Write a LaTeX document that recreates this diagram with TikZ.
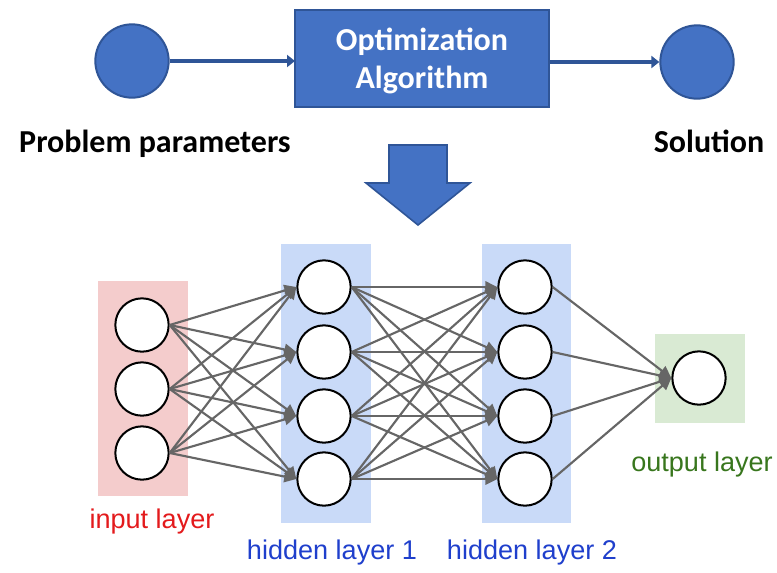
\documentclass[tikz,border=0pt]{standalone}
\usepackage{fontspec}
\setmainfont{Carlito}
\newfontfamily\arialish{Liberation Sans}
\usetikzlibrary{arrows.meta}
\definecolor{algofill}{HTML}{4472C4}
\definecolor{algoline}{HTML}{2F5597}
\definecolor{inpink}{HTML}{F4CCCC}
\definecolor{hidblue}{HTML}{C9DAF8}
\definecolor{outgreen}{HTML}{D9EAD3}
\definecolor{edgegray}{HTML}{666666}
\definecolor{lblred}{HTML}{E31A1C}
\definecolor{lblblue}{HTML}{1F3FCC}
\definecolor{lblgreen}{HTML}{38761D}
\tikzset{
  bigdot/.style={circle, fill=algofill, draw=algoline, line width=1.5pt, minimum size=55pt, inner sep=0pt},
  algobox/.style={rectangle, fill=algofill, draw=algoline, line width=1.5pt, inner sep=0pt},
  flowarrow/.style={draw=algoline, line width=3.2pt, -{Triangle[length=6pt,width=9pt]}},
  neuron/.style={circle, draw=black, fill=white, line width=1.5pt, minimum size=40pt, inner sep=0pt},
  synapse/.style={draw=edgegray, line width=1.6pt, -{Triangle[length=9pt,width=8.5pt]}},
  bigtext/.style={font=\fontsize{24pt}{28pt}\selectfont\bfseries, anchor=base},
  layerlabel/.style={font=\arialish\fontsize{20.3pt}{24pt}\selectfont, anchor=base}
}
\begin{document}
\begin{tikzpicture}[x=0.75pt, y=-0.75pt]
\useasboundingbox (0,0) rectangle (777,572);

% top: problem -> algorithm -> solution
\node[bigdot] (prob) at (132,61) {};
\node[bigdot] (sol) at (697,62) {};
\path[algobox] (295,10) rectangle (549,107);
\coordinate (boxW) at (295,61);
\coordinate (boxE) at (549,62);
\node[bigtext, text=white] (opt1) at (422,50) {Optimization};
\node[bigtext, text=white] (opt2) at (422,88) {Algorithm};
\draw[flowarrow] (prob.east) -- (boxW);
\draw[flowarrow] (boxE) -- (sol.west);
\node[bigtext] (problbl) at (155,152) {Problem parameters};
\node[bigtext] (sollbl) at (709,152) {Solution};

% big down arrow
\draw[fill=algofill, draw=algoline, line width=1.2pt, line join=miter]
  (389,145) -- (447,145) -- (447,183) -- (470,183) -- (418,225)
  -- (366,183) -- (389,183) -- cycle;

% layer backgrounds
\fill[inpink] (98,281) rectangle (188,496);
\fill[hidblue] (281,244) rectangle (371,523);
\fill[hidblue] (482,244) rectangle (571,523);
\fill[outgreen] (655,334) rectangle (745,423);

% neurons
\foreach \i/\y in {1/325, 2/389, 3/453}
  \node[neuron] (in\i) at (142,\y) {};
\foreach \i/\y in {1/287, 2/352, 3/416, 4/479} {
  \node[neuron] (ha\i) at (324,\y) {};
  \node[neuron] (hb\i) at (525,\y) {};
}
\node[neuron] (out) at (699,378) {};

% connections
\foreach \i in {1,2,3}
  \foreach \j in {1,2,3,4}
    \draw[synapse] (in\i.east) -- (ha\j.west);
\foreach \i in {1,2,3,4}
  \foreach \j in {1,2,3,4}
    \draw[synapse] (ha\i.east) -- (hb\j.west);
\foreach \i in {1,2,3,4}
  \draw[synapse] (hb\i.east) -- (out.west);

% layer labels
\node[layerlabel, text=lblred] (lin) at (152,528) {input layer};
\node[layerlabel, text=lblblue] (lh1) at (332,559) {hidden layer 1};
\node[layerlabel, text=lblblue] (lh2) at (532,559) {hidden layer 2};
\node[layerlabel, text=lblgreen] (lout) at (702,471) {output layer};
\end{tikzpicture}
\end{document}
